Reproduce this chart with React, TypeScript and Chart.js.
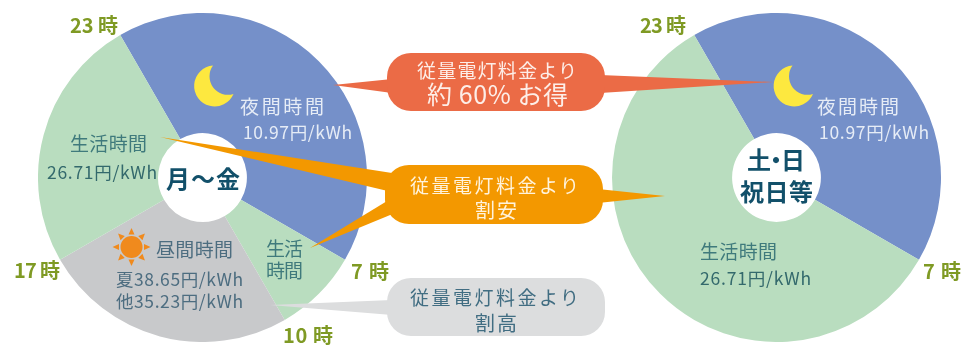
import React, { useEffect, useRef } from "react";
import { Chart, registerables } from "chart.js";

Chart.register(...registerables);

// Tariff bands and the arc each one takes on its dial, in degrees.
const weekdayBands = ["夜間時間", "生活時間", "昼間時間", "生活時間"];
const weekdayArcs = [150, 30, 90, 90];
const weekdayColors = ["#7590c9", "#b9ddbf", "#c8c9cb", "#b9ddbf"];

const holidayBands = ["夜間時間", "生活時間"];
const holidayArcs = [150, 210];
const holidayColors = ["#7590c9", "#b9ddbf"];

const dialStartAngle = -30;
const dialCutout = "27%";

type Label = { t: string; x: number; w: number; y: number; s: number; c: string; b?: boolean };

const OLIVE = "#7f9a24";
const PALE = "#e6ecf6";
const TEAL = "#3f7a7c";
const DEEP = "#12506a";
const SLATE = "#4d6d80";

const hourLabels: Label[] = [
  { t: "23 時", x: 70, w: 48, y: 24, s: 20, c: OLIVE, b: true },
  { t: "17 時", x: 14, w: 46, y: 269, s: 20, c: OLIVE, b: true },
  { t: "7 時", x: 351, w: 38, y: 270, s: 20, c: OLIVE, b: true },
  { t: "10 時", x: 283, w: 50, y: 334, s: 20, c: OLIVE, b: true },
  { t: "23 時", x: 640, w: 46, y: 24, s: 20, c: OLIVE, b: true },
  { t: "7 時", x: 923, w: 38, y: 270, s: 20, c: OLIVE, b: true },
];

const dialLabels: Label[] = [
  { t: "夜間時間", x: 240, w: 84, y: 105, s: 19, c: PALE },
  { t: "10.97円/kWh", x: 243, w: 109, y: 131, s: 17.5, c: PALE },
  { t: "生活時間", x: 70, w: 77, y: 142, s: 19, c: TEAL },
  { t: "26.71円/kWh", x: 47, w: 110, y: 171, s: 17.5, c: "#33696c" },
  { t: "月〜金", x: 166, w: 74, y: 177, s: 24, c: DEEP, b: true },
  { t: "昼間時間", x: 156, w: 77, y: 248, s: 19, c: SLATE },
  { t: "夏38.65円/kWh", x: 116, w: 127, y: 278, s: 17.5, c: SLATE },
  { t: "他35.23円/kWh", x: 116, w: 127, y: 300, s: 17.5, c: SLATE },
  { t: "生活", x: 266, w: 37, y: 247, s: 19, c: TEAL },
  { t: "時間", x: 266, w: 37, y: 269, s: 19, c: TEAL },
  { t: "夜間時間", x: 817, w: 82, y: 105, s: 19, c: PALE },
  { t: "10.97円/kWh", x: 819, w: 110, y: 131, s: 17.5, c: PALE },
  { t: "土・日", x: 747, w: 58, y: 158, s: 24, c: DEEP, b: true },
  { t: "祝日等", x: 740, w: 73, y: 190, s: 24, c: DEEP, b: true },
  { t: "生活時間", x: 700, w: 77, y: 250, s: 19, c: TEAL },
  { t: "26.71円/kWh", x: 700, w: 111, y: 277, s: 17.5, c: "#33696c" },
];

const calloutLabels: Label[] = [
  { t: "従量電灯料金より", x: 417, w: 160, y: 69, s: 19, c: "#fdeee8" },
  { t: "約 60% お得", x: 427, w: 141, y: 93, s: 25, c: "#fdeee8" },
  { t: "従量電灯料金より", x: 410, w: 169, y: 184, s: 19, c: "#fff3dc" },
  { t: "割安", x: 475, w: 42, y: 209, s: 20, c: "#fff3dc" },
  { t: "従量電灯料金より", x: 410, w: 169, y: 296, s: 19, c: "#416d82" },
  { t: "割高", x: 475, w: 42, y: 322, s: 20, c: "#416d82" },
];

const sunRays = [0, 45, 90, 135, 180, 225, 270, 315];

function useDial(
  ref: React.RefObject<HTMLCanvasElement | null>,
  labels: string[],
  arcs: number[],
  colors: string[],
) {
  useEffect(() => {
    if (!ref.current) return;
    const chart = new Chart(ref.current, {
      type: "doughnut",
      data: {
        labels,
        datasets: [{ data: arcs, backgroundColor: colors, borderWidth: 0 }],
      },
      options: {
        animation: false,
        responsive: false,
        rotation: dialStartAngle,
        cutout: dialCutout,
        radius: "100%",
        layout: { padding: 0 },
        plugins: { legend: { display: false }, tooltip: { enabled: false } },
      },
    });
    return () => chart.destroy();
  }, []);
}

function Moon({ dx }: { dx: number }) {
  return (
    <path
      transform={`translate(${dx} 0)`}
      d="M213,65.5 A20.5 20.5 0 1 0 233.5,94 A18.5 18.5 0 0 1 213,65.5 Z"
      fill="#fde83f"
    />
  );
}

function Text({ l }: { l: Label }) {
  return (
    <text
      x={l.x}
      y={l.y}
      dominantBaseline="central"
      textLength={l.w}
      lengthAdjust="spacing"
      fontSize={l.s}
      fontWeight={l.b ? 700 : 400}
      fill={l.c}
      fontFamily="'Noto Sans CJK JP', 'Noto Sans', sans-serif"
    >
      {l.t}
    </text>
  );
}

export default function App() {
  const weekdayRef = useRef<HTMLCanvasElement>(null);
  const holidayRef = useRef<HTMLCanvasElement>(null);
  useDial(weekdayRef, weekdayBands, weekdayArcs, weekdayColors);
  useDial(holidayRef, holidayBands, holidayArcs, holidayColors);

  return (
    <div style={{ position: "fixed", left: 0, top: 0, width: 963, height: 345, background: "#fff", overflow: "hidden" }}>
      <canvas ref={weekdayRef} width={329} height={329} style={{ position: "absolute", left: 38, top: 13 }} />
      <canvas ref={holidayRef} width={329} height={329} style={{ position: "absolute", left: 612, top: 13 }} />
      <svg width={963} height={345} style={{ position: "absolute", left: 0, top: 0 }}>
        <Moon dx={0} />
        <Moon dx={579.5} />

        {/* sun beside the daytime band */}
        <g transform="translate(131.5 247)" fill="#f08a1d">
          <circle r={11} />
          {sunRays.map((a) => (
            <path key={a} transform={`rotate(${a})`} d="M-3,-12.5 L0,-19 L3,-12.5 Z" />
          ))}
        </g>

        {/* savings callouts and their pointers */}
        <g fill="#eb6b46">
          <path d="M333,85 L392,79 L392,93 Z" />
          <path d="M600,75 L773,82 L600,93 Z" />
          <rect x={387} y={53} width={218} height={58} rx={24} />
        </g>
        <g fill="#f39800">
          <path d="M160,137 L392,173 L392,192 Z" />
          <path d="M310,248 L392,198 L395,213 Z" />
          <path d="M598,189 L665,196 L598,203 Z" />
          <rect x={385} y={165} width={218} height={59} rx={24} />
        </g>
        <g fill="#dcddde">
          <path d="M270,305 L392,300 L392,315 Z" />
          <rect x={387} y={278} width={218} height={58} rx={24} />
        </g>

        {[...hourLabels, ...dialLabels, ...calloutLabels].map((l, i) => (
          <Text key={i} l={l} />
        ))}
      </svg>
    </div>
  );
}
